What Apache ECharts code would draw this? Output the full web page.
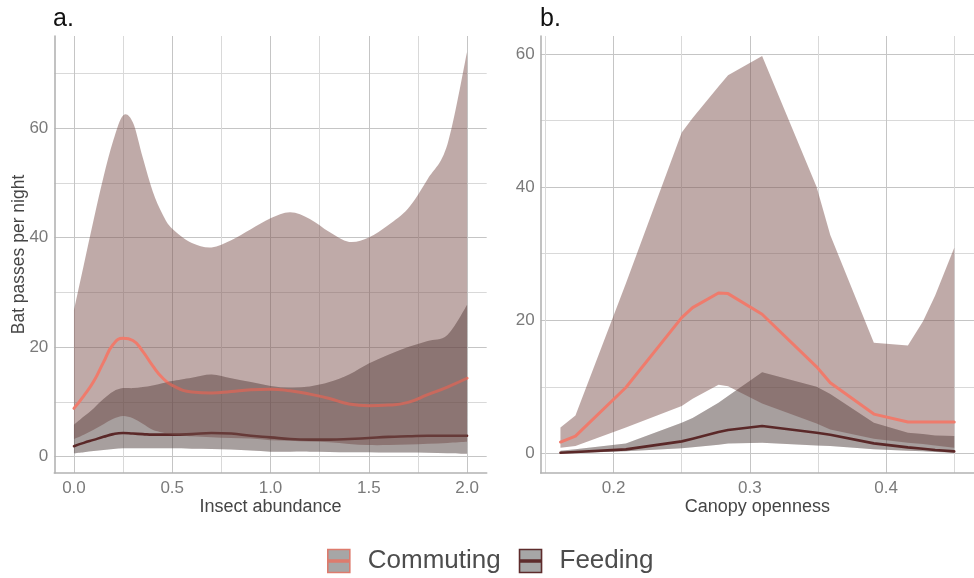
<!DOCTYPE html>
<html>
<head>
<meta charset="utf-8">
<script src="https://cdn.jsdelivr.net/npm/echarts@6/dist/echarts.min.js"></script>
<style>
  html, body { margin: 0; padding: 0; background: #ffffff; }
  #chart { width: 974px; height: 578px; }
</style>
</head>
<body>
<div id="chart"></div>
<script>
// Panel a: bat passes against insect abundance
const insectX = [0, 0.05, 0.1, 0.15, 0.2, 0.25, 0.3, 0.35, 0.4, 0.45, 0.5, 0.6, 0.7, 0.8, 0.9, 1.0, 1.1, 1.2, 1.3, 1.4, 1.5, 1.6, 1.7, 1.8, 1.9, 2.0];
const insectCommutingFit   = [8.8, 11.1, 13.7, 17.2, 20.5, 21.6, 21.2, 19.2, 16.6, 14.4, 13.0, 11.8, 11.6, 11.9, 12.2, 12.3, 12.0, 11.4, 10.6, 9.6, 9.3, 9.4, 9.9, 11.3, 12.7, 14.3];
const insectCommutingLower = [3.2, 4.0, 4.9, 5.9, 6.9, 7.4, 7.0, 6.0, 4.9, 4.4, 4.0, 3.7, 3.55, 3.4, 3.3, 3.0, 2.9, 2.75, 2.6, 2.3, 2.1, 2.1, 2.2, 2.35, 2.5, 2.7];
const insectCommutingUpper = [26.7, 35.0, 43.2, 51.0, 57.7, 62.3, 61.0, 54.6, 48.5, 44.3, 41.6, 39.0, 38.2, 39.5, 41.5, 43.5, 44.6, 43.4, 41.0, 39.2, 40.0, 42.3, 45.3, 50.7, 57.0, 73.9];
const insectFeedingFit     = [1.9, 2.5, 3.05, 3.6, 4.1, 4.3, 4.2, 4.1, 4.0, 4.0, 4.0, 4.1, 4.3, 4.2, 3.8, 3.5, 3.2, 3.1, 3.1, 3.2, 3.4, 3.6, 3.7, 3.8, 3.8, 3.8];
const insectFeedingLower   = [0.6, 0.8, 1.0, 1.2, 1.4, 1.5, 1.5, 1.5, 1.5, 1.5, 1.5, 1.45, 1.4, 1.3, 1.1, 0.9, 0.9, 0.9, 0.85, 0.8, 0.8, 0.75, 0.75, 0.7, 0.6, 0.5];
const insectFeedingUpper   = [5.8, 7.3, 8.8, 10.5, 11.9, 12.5, 12.5, 12.7, 13.0, 13.4, 13.8, 14.4, 15.0, 14.3, 13.6, 12.9, 12.6, 12.8, 13.6, 15.0, 17.0, 18.6, 20.0, 21.1, 22.2, 27.7];

// Panel b: bat passes against canopy openness
const canopyX = [0.161, 0.172, 0.209, 0.25, 0.258, 0.277, 0.284, 0.309, 0.349, 0.359, 0.391, 0.416, 0.427, 0.436, 0.45];
const canopyCommutingFit   = [1.7, 2.6, 9.9, 20.4, 21.9, 24.1, 24.0, 20.9, 13.0, 10.6, 5.9, 4.7, 4.7, 4.7, 4.7];
const canopyCommutingLower = [0.85, 1.1, 3.9, 7.1, 8.2, 10.3, 10.1, 7.5, 4.5, 3.6, 2.2, 1.6, 1.4, 1.2, 0.85];
const canopyCommutingUpper = [3.9, 5.7, 25.5, 48.2, 50.4, 55.1, 56.8, 59.7, 40.0, 32.8, 16.6, 16.2, 19.8, 23.7, 30.9];
const canopyFeedingFit     = [0.1, 0.2, 0.6, 1.8, 2.2, 3.2, 3.5, 4.1, 3.1, 2.8, 1.5, 0.9, 0.7, 0.5, 0.3];
const canopyFeedingLower   = [0.0, 0.05, 0.3, 0.75, 0.9, 1.3, 1.5, 1.6, 1.2, 1.1, 0.6, 0.4, 0.3, 0.2, 0.1];
const canopyFeedingUpper   = [0.4, 0.6, 1.5, 4.6, 5.3, 7.6, 8.6, 12.2, 10.0, 8.9, 4.6, 3.1, 2.9, 2.7, 2.6];

// Tick labels
const insectTicks = [0, 0.5, 1.0, 1.5, 2.0];
const canopyTicks = [0.2, 0.3, 0.4];
const passesTicksA = [0, 20, 40, 60];
const passesTicksB = [0, 20, 40, 60];

const FONT = "'Liberation Sans', Arial, Helvetica, sans-serif";
const MAJOR = '#c5c5c5';
const MINOR = '#d9d9d9';
const COMMUTING = '#ef7b6c';
const FEEDING = '#612828';

// Catmull-Rom style cubic segments through screen points
function curveSegments(pts, smooth) {
  let s = '';
  const n = pts.length;
  for (let i = 0; i < n - 1; i++) {
    const p1 = pts[i], p2 = pts[i + 1];
    if (!smooth) { s += ' L' + p2[0] + ' ' + p2[1]; continue; }
    const p0 = pts[Math.max(i - 1, 0)], p3 = pts[Math.min(i + 2, n - 1)];
    const k = 1 / 6;
    const c1 = [p1[0] + (p2[0] - p0[0]) * k, p1[1] + (p2[1] - p0[1]) * k];
    const c2 = [p2[0] - (p3[0] - p1[0]) * k, p2[1] - (p3[1] - p1[1]) * k];
    s += ' C' + c1[0] + ' ' + c1[1] + ' ' + c2[0] + ' ' + c2[1] + ' ' + p2[0] + ' ' + p2[1];
  }
  return s;
}

// Confidence ribbon between lower and upper bounds
function ribbon(name, xs, lo, hi, fill, axis, z, smooth) {
  return {
    type: 'custom', name: name, xAxisIndex: axis, yAxisIndex: axis, z: z, silent: true,
    data: xs.map((x, i) => [x, lo[i], hi[i]]),
    encode: { x: 0, y: [1, 2] },
    renderItem: function (params, api) {
      if (params.dataIndex !== 0) return null;
      const top = xs.map((x, i) => api.coord([x, hi[i]]));
      const bottom = xs.map((x, i) => api.coord([x, lo[i]])).reverse();
      const d = 'M' + top[0][0] + ' ' + top[0][1] + curveSegments(top, smooth) +
        ' L' + bottom[0][0] + ' ' + bottom[0][1] + curveSegments(bottom, smooth) + ' Z';
      return { type: 'path', z2: 0, shape: { pathData: d }, style: { fill: fill, stroke: null } };
    }
  };
}

function fitLine(name, xs, ys, color, width, axis, z, smooth) {
  return {
    type: 'line', name: name, xAxisIndex: axis, yAxisIndex: axis, z: z, silent: true,
    data: xs.map((x, i) => [x, ys[i]]),
    symbol: 'none', showSymbol: false, smooth: smooth,
    lineStyle: { color: color, width: width, cap: 'round', join: 'round' },
    itemStyle: { color: color },
    emphasis: { disabled: true }
  };
}

function panelSeries(xs, cFit, cLo, cHi, fFit, fLo, fHi, axis, smooth) {
  return [
    ribbon('Feeding interval', xs, fLo, fHi, 'rgba(90,80,78,0.36)', axis, 2, smooth),
    fitLine('Feeding', xs, fFit, FEEDING, 2.6, axis, 3, smooth),
    ribbon('Commuting interval', xs, cLo, cHi, 'rgba(127,85,81,0.5)', axis, 4, smooth),
    fitLine('Commuting', xs, cFit, COMMUTING, 3, axis, 5, smooth),
    ribbon('Feeding interval', xs, fLo, fHi, 'rgba(70,40,40,0.22)', axis, 6, smooth)
  ];
}

function tickFormatter(ticks, digits) {
  return function (v) {
    const hit = ticks.find(t => Math.abs(t - v) < 1e-6);
    return hit === undefined ? '' : hit.toFixed(digits);
  };
}

function valueAxis(gridIndex, min, max, step, ticks, digits, colors, extra) {
  return Object.assign({
    type: 'value', gridIndex: gridIndex, min: min, max: max,
    minInterval: step, maxInterval: step,
    nameMoveOverlap: false,
    axisLine: { show: true, onZero: false, lineStyle: { color: '#b3b3b3', width: 1.6 } },
    axisTick: { show: false },
    axisLabel: {
      interval: 0, formatter: tickFormatter(ticks, digits), hideOverlap: false,
      showMinLabel: true, showMaxLabel: true,
      color: '#7a7a7a', fontSize: 17, fontFamily: FONT, margin: 7
    },
    splitLine: { show: true, showMinLine: false, showMaxLine: false, lineStyle: { color: colors, width: 1 } },
    nameTextStyle: { fontSize: 18, color: '#454545', fontFamily: FONT }
  }, extra || {});
}

const KEY_ICON = 'path://M0 0L22 0L22 23L0 23Z M0 10.6L22 10.6L22 12.4L0 12.4Z';

const option = {
  animation: false,
  backgroundColor: '#ffffff',
  textStyle: { fontFamily: FONT },
  title: [
    { text: 'a.', left: 53, top: 7, padding: 0, textStyle: { fontSize: 25, fontWeight: 'normal', color: '#111111', fontFamily: FONT } },
    { text: 'b.', left: 540, top: 7, padding: 0, textStyle: { fontSize: 25, fontWeight: 'normal', color: '#111111', fontFamily: FONT } }
  ],
  legend: {
    left: 327, top: 548, padding: 0, itemGap: 18, itemWidth: 22, itemHeight: 23,
    selectedMode: false,
    textStyle: { fontSize: 26, color: '#4d4d4d', fontFamily: FONT, padding: [0, 0, 0, 13] },
    data: [
      { name: 'Commuting', icon: KEY_ICON, itemStyle: { color: '#a6a6a6', borderColor: '#dd7b6d', borderWidth: 1.6 } },
      { name: 'Feeding', icon: KEY_ICON, itemStyle: { color: '#a6a6a6', borderColor: '#5e2c2c', borderWidth: 1.6 } }
    ]
  },
  grid: [
    { left: 54.3, right: 974 - 486.7, top: 36, bottom: 105, containLabel: false, outerBoundsMode: 'none' },
    { left: 540.7, right: 0, top: 36, bottom: 105, containLabel: false, outerBoundsMode: 'none' }
  ],
  xAxis: [
    valueAxis(0, -0.1, 2.1, 0.25, insectTicks, 1, [MAJOR, MINOR],
      { name: 'Insect abundance', nameLocation: 'middle', nameGap: 25 }),
    valueAxis(1, 0.1465, 0.4645, 0.05, canopyTicks, 1, [MINOR, MAJOR],
      { name: 'Canopy openness', nameLocation: 'middle', nameGap: 25 })
  ],
  yAxis: [
    valueAxis(0, -3.0, 76.8, 10, passesTicksA, 0, [MAJOR, MINOR],
      { name: 'Bat passes per night', nameLocation: 'middle', nameGap: 26.5,
        nameTextStyle: { fontSize: 17.5, color: '#454545', fontFamily: FONT } }),
    valueAxis(1, -2.95, 62.7, 10, passesTicksB, 0, [MAJOR, MINOR])
  ],
  series: [].concat(
    panelSeries(insectX, insectCommutingFit, insectCommutingLower, insectCommutingUpper,
      insectFeedingFit, insectFeedingLower, insectFeedingUpper, 0, true),
    panelSeries(canopyX, canopyCommutingFit, canopyCommutingLower, canopyCommutingUpper,
      canopyFeedingFit, canopyFeedingLower, canopyFeedingUpper, 1, false)
  )
};

// Axis labels on the y axes sit a little closer to the line
option.yAxis.forEach(a => { a.axisLabel.margin = 6; });

const chart = echarts.init(document.getElementById('chart'), null, { renderer: 'canvas' });
chart.setOption(option);
</script>
</body>
</html>
